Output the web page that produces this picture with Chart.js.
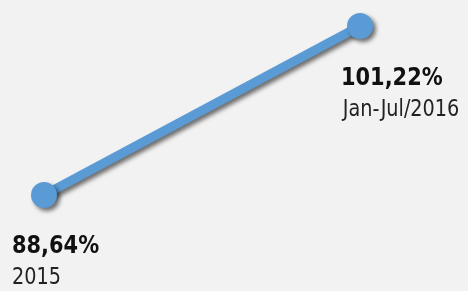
<!DOCTYPE html>
<html>
<head>
<meta charset="utf-8">
<script src="https://cdn.jsdelivr.net/npm/chart.js@4"></script>
<style>
  html, body { margin: 0; padding: 0; background: #f2f2f2; }
  #wrap { width: 468px; height: 291px; }
</style>
</head>
<body>
<div id="wrap"><canvas id="myChart"></canvas></div>
<script>
const periodos = ["2015", "Jan-Jul/2016"];
const valores = [88.64, 101.22];
const rotulos = ["88,64%", "101,22%"];

const lineColor = "#5b9bd5";

// sombra na linha e nos pontos
const sombra = {
    id: "sombra",
    beforeDatasetsDraw(chart) {
        const ctx = chart.ctx;
        ctx.save();
        ctx.shadowColor = "rgba(0,0,0,0.55)";
        ctx.shadowBlur = 4;
        ctx.shadowOffsetX = 3;
        ctx.shadowOffsetY = 3;
    },
    afterDatasetsDraw(chart) {
        chart.ctx.restore();
    },
};

// rótulos de valor e período junto a cada ponto
const rotulosPlugin = {
    id: "rotulos",
    afterDraw(chart) {
        const ctx = chart.ctx;
        const pts = chart.getDatasetMeta(0).data;
        const offsets = [
            { dx: -32, dy: 58, dx2: 0 },
            { dx: -19, dy: 59, dx2: 2 },
        ];
        ctx.save();
        ctx.textBaseline = "alphabetic";
        ctx.textAlign = "left";
        pts.forEach((p, i) => {
            const x = p.x + offsets[i].dx;
            const y = p.y + offsets[i].dy;
            ctx.save();
            ctx.translate(x, y);
            ctx.scale(0.93, 1);
            ctx.fillStyle = "#111";
            ctx.font = "bold 25px 'DejaVu Sans Condensed', sans-serif";
            ctx.fillText(rotulos[i], 0, 0);
            ctx.fillStyle = "#222";
            ctx.font = "23px 'DejaVu Sans Condensed', sans-serif";
            ctx.fillText(periodos[i], offsets[i].dx2, 31);
            ctx.restore();
        });
        ctx.restore();
    },
};

new Chart(document.getElementById("myChart"), {
    type: "line",
    data: {
        labels: periodos,
        datasets: [
            {
                data: valores,
                borderColor: lineColor,
                backgroundColor: lineColor,
                borderWidth: 9,
                pointRadius: 13,
                pointBackgroundColor: lineColor,
                pointBorderWidth: 0,
                tension: 0,
                clip: false,
            },
        ],
    },
    options: {
        responsive: true,
        maintainAspectRatio: false,
        animation: false,
        layout: {
            padding: { top: 26, bottom: 96, left: 44, right: 108 },
        },
        scales: {
            x: { display: false, offset: false },
            y: { display: false, min: 88.64, max: 101.22 },
        },
        plugins: {
            legend: { display: false },
            tooltip: { enabled: false },
        },
    },
    plugins: [sombra, rotulosPlugin],
});
</script>
</body>
</html>
